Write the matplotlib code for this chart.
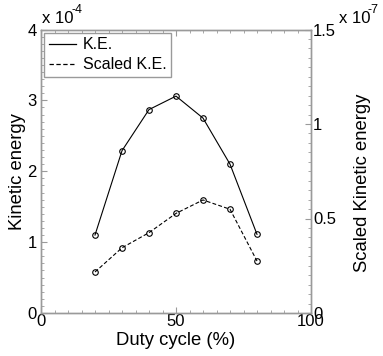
import matplotlib
matplotlib.use("Agg")
import matplotlib.pyplot as plt
from matplotlib.ticker import MultipleLocator, FuncFormatter

plt.rcParams['font.family'] = ['Liberation Sans', 'DejaVu Sans']

duty = [20, 30, 40, 50, 60, 70, 80]
ke = [1.10e-4, 2.29e-4, 2.87e-4, 3.06e-4, 2.75e-4, 2.10e-4, 1.11e-4]
scaled_ke = [0.217e-7, 0.345e-7, 0.425e-7, 0.527e-7, 0.598e-7, 0.549e-7, 0.275e-7]

spine_col = '#9a9a9a'
fs_tick = 12
fs_lab = 13.3

fig = plt.figure(figsize=(3.83, 3.56), dpi=100)
ax = fig.add_axes([41/383, 1 - 313/356, 270/383, 283.5/356])
ax2 = ax.twinx()

ax.plot(duty, ke, '-', color='black', lw=0.8, marker='o', ms=4,
        mfc='none', mec='black', mew=0.8)
ax2.plot(duty, scaled_ke, '--', color='black', lw=0.8, marker='o', ms=4,
         mfc='none', mec='black', mew=0.8, dashes=(3.5, 2))

ax.set_xlim(0, 100)
ax.set_ylim(0, 4e-4)
ax2.set_ylim(0, 1.5e-7)

ax.xaxis.set_major_locator(MultipleLocator(50))
ax.xaxis.set_minor_locator(MultipleLocator(5))
ax.yaxis.set_major_locator(MultipleLocator(1e-4))
ax.yaxis.set_minor_locator(MultipleLocator(0.1e-4))
ax2.yaxis.set_major_locator(MultipleLocator(0.5e-7))
ax2.yaxis.set_minor_locator(MultipleLocator(0.05e-7))

ax.yaxis.set_major_formatter(FuncFormatter(lambda v, p: '%g' % round(v / 1e-4, 3)))
ax2.yaxis.set_major_formatter(FuncFormatter(lambda v, p: '%g' % round(v / 1e-7, 3)))

for a in (ax, ax2):
    for s in a.spines.values():
        s.set_color(spine_col)
        s.set_linewidth(1.0)
    a.tick_params(which='both', direction='in', colors=spine_col, labelcolor='black',
                  labelsize=fs_tick, pad=2)
    a.tick_params(which='major', length=4)
    a.tick_params(which='minor', length=2)
ax.tick_params(axis='x', which='both', top=True, pad=1)
ax.tick_params(axis='y', which='both', right=False, pad=3)
ax2.tick_params(axis='y', pad=1.5)

ax.set_xlabel('Duty cycle (%)', fontsize=fs_lab, labelpad=2)
ax.set_ylabel('Kinetic energy', fontsize=fs_lab, labelpad=1)
ax2.set_ylabel('Scaled Kinetic energy', fontsize=fs_lab)
ax2.yaxis.set_label_coords(1.16, 0.46)

# exponent labels above each y axis
ax.text(0.004, 1.014, 'x 10', transform=ax.transAxes, fontsize=fs_tick,
        ha='left', va='bottom')
ax.annotate('-4', xy=(0.004, 1.014), xycoords='axes fraction', xytext=(21, 7),
            textcoords='offset points', fontsize=9, ha='left', va='bottom')
ax2.text(1.103, 1.014, 'x 10', transform=ax2.transAxes, fontsize=fs_tick,
         ha='left', va='bottom')
ax2.annotate('-7', xy=(1.103, 1.014), xycoords='axes fraction', xytext=(21, 7),
             textcoords='offset points', fontsize=9, ha='left', va='bottom')

leg = ax.legend(handles=[plt.Line2D([], [], color='black', lw=0.9),
                         plt.Line2D([], [], color='black', lw=0.9, ls='--', dashes=(3.5, 2))],
                labels=['K.E.', 'Scaled K.E.'], loc='upper left', fontsize=11.5,
                fancybox=False, framealpha=1, edgecolor=spine_col,
                handlelength=1.7, handletextpad=0.4, borderpad=0.3,
                labelspacing=0.3, borderaxespad=0.2)
leg.get_frame().set_linewidth(1.0)

fig.savefig('out.png', dpi=100)
